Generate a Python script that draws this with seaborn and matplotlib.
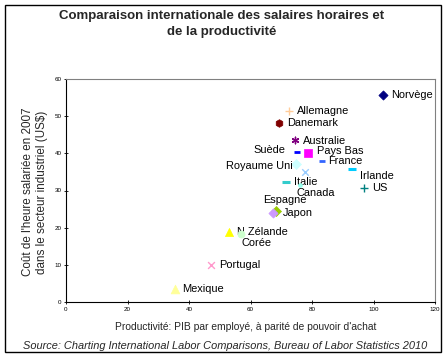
import matplotlib
matplotlib.use("Agg")
import matplotlib.pyplot as plt
import seaborn as sns
from matplotlib.patches import Rectangle

countries = ["Norvège", "Allemagne", "Danemark", "Australie", "Suède", "Pays Bas",
             "France", "Royaume Uni", "", "Irlande", "Italie", "Canada", "US",
             "Espagne", "Japon", "N Zélande", "Corée", "Portugal", "Mexique"]
productivite = [103.1, 72.5, 69.3, 74.5, 75.1, 78.7, 83.3, 74.8, 77.8, 93.1,
                71.5, 76.1, 96.9, 68.2, 67.3, 53.0, 56.8, 47.2, 35.3]
cout_horaire = [55.7, 51.4, 48.2, 43.6, 40.4, 40.1, 37.9, 37.1, 34.9, 35.9,
                32.4, 31.6, 30.6, 24.4, 23.9, 18.9, 18.3, 10.0, 3.6]
x_ticks = [0, 20, 40, 60, 80, 100, 120]
y_ticks = [0, 10, 20, 30, 40, 50, 60]

# styles: marker, color, size, linewidth
styles = {
    "Norvège": ("D", "#000080", 22, 0.5),
    "Allemagne": ("+", "#FFCC99", 30, 1.0),
    "Danemark": ("h", "#800000", 30, 0.5),
    "Australie": ((6, 2, 0), "#800080", 22, 1.0),
    "Suède": ("_", "#0000FF", 25, 2.0),
    "Pays Bas": ("s", "#FF00FF", 32, 0.5),
    "France": ("_", "#3366FF", 25, 2.0),
    "Royaume Uni": ("D", "#CCFFFF", 26, 0.5),
    "": ("x", "#99CCFF", 22, 1.0),
    "Irlande": ("_", "#00CCFF", 40, 2.2),
    "Italie": ("_", "#33CCCC", 40, 2.2),
    "Canada": ("o", "#99FFEE", 8, 0.5),
    "US": ("+", "#008080", 30, 1.0),
    "Espagne": ("D", "#99CC00", 26, 0.5),
    "Japon": ("D", "#CC99FF", 22, 0.5),
    "N Zélande": ("^", "#FFFF00", 34, 0.5),
    "Corée": ("o", "#CCFFCC", 26, 0.5),
    "Portugal": ("x", "#FF99CC", 24, 1.0),
    "Mexique": ("^", "#FFFF99", 40, 0.5),
}
# label offsets in pixels (dx, dy up), ha
offsets = {
    "Norvège": (8, 0, "left"), "Allemagne": (8, 0, "left"),
    "Danemark": (8, 0, "left"), "Australie": (8, -1, "left"),
    "Suède": (-12, 2, "right"), "Pays Bas": (9, 2, "left"),
    "France": (6, 0, "left"), "Royaume Uni": (-3, -2, "right"),
    "": (0, 0, "left"), "Irlande": (8, -7, "left"), "Italie": (8, 0, "left"),
    "Canada": (-4, -8, "left"), "US": (8, 0, "left"),
    "Espagne": (-13, 11, "left"), "Japon": (10, 0, "left"),
    "N Zélande": (8, 0, "left"), "Corée": (1, -9, "left"),
    "Portugal": (8, 0, "left"), "Mexique": (8, 0, "left"),
}

sns.set_theme(style="white")
plt.rcParams['font.family'] = ['Liberation Sans', 'DejaVu Sans']

fig = plt.figure(figsize=(4.47, 3.59), dpi=100)
ax = fig.add_axes([66/447, 1-302/359, (435-66)/447, (302-79)/359])

for c, xv, yv in zip(countries, productivite, cout_horaire):
    m, col, s, lw = styles[c]
    sns.scatterplot(x=[xv], y=[yv], marker=m, color=col, s=s, linewidth=lw,
                    edgecolor=col, ax=ax, legend=False, zorder=3)
    if c:
        dx, dy, ha = offsets[c]
        ax.annotate(c, (xv, yv), xytext=(dx*0.72, dy*0.72), textcoords="offset points",
                    ha=ha, va="center", fontsize=7.9, color="black")

ax.set_xlim(0, 120)
ax.set_ylim(0, 60)
ax.set_xticks(x_ticks)
ax.set_yticks(y_ticks)
ax.tick_params(axis="both", labelsize=4.5, length=2.5, width=0.6, direction="inout",
               pad=2, colors="black", left=True, bottom=True)
for side in ["left", "bottom"]:
    ax.spines[side].set_color("black")
    ax.spines[side].set_linewidth(0.8)
for side in ["top", "right"]:
    ax.spines[side].set_color("#808080")
    ax.spines[side].set_linewidth(0.8)
ax.set_xlabel("")
ax.set_ylabel("")

fig.text(35/447, 1-192/359, "Coût de l'heure salariée en 2007\ndans le secteur industriel (US$)",
         rotation=90, ha="center", va="center", fontsize=8.4, linespacing=1.3)
fig.text(246/447, 1-327/359, "Productivité: PIB par employé, à parité de pouvoir d'achat",
         ha="center", va="center", fontsize=7.4)
fig.text(225/447, 1-346/359, "Source: Charting International Labor Comparisons, Bureau of Labor Statistics 2010",
         ha="center", va="center", fontsize=7.9, style="italic")
fig.text(222/447, 1-24/359, "Comparaison internationale des salaires horaires et\nde la productivité",
         ha="center", va="center", fontsize=9.5, fontweight="bold", linespacing=1.35)

fig.patches.append(Rectangle((5/447, 1-352/359), 436/447, 347/359, transform=fig.transFigure,
                             fill=False, edgecolor="black", linewidth=1.0))

fig.savefig("out.png", dpi=100)
